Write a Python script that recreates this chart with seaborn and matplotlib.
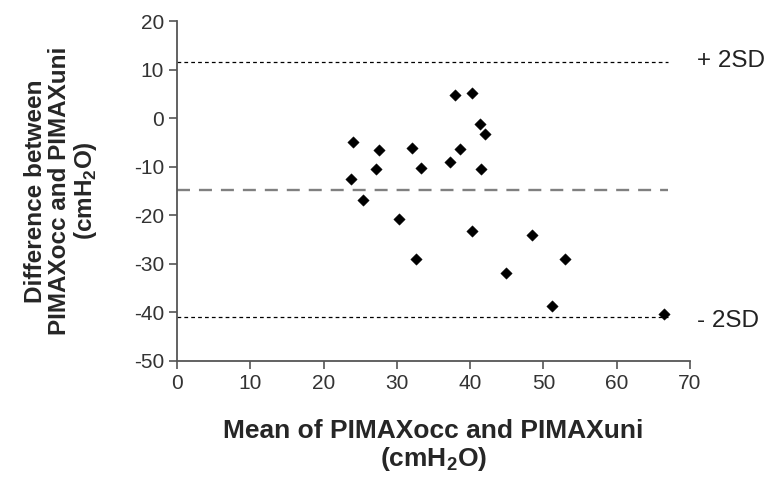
import numpy as np
import pandas as pd
import matplotlib
matplotlib.use("Agg")
import matplotlib.pyplot as plt
import seaborn as sns

# Bland-Altman data
mean_vals = [24.0, 23.7, 25.4, 27.5, 27.2, 30.3, 32.1, 32.6, 33.3, 37.2, 38.0,
             38.6, 40.3, 41.3, 42.0, 41.5, 40.3, 44.9, 48.5, 53.0, 51.2, 66.5]
diff_vals = [-4.9, -12.6, -16.8, -6.6, -10.4, -20.8, -6.2, -29.0, -10.2, -9.1, 4.8,
             -6.3, 5.1, -1.3, -3.2, -10.5, -23.2, -31.8, -24.0, -28.9, -38.7, -40.4]
bias = -14.8
upper_sd = 11.5
lower_sd = -40.9
line_end = 67
x_ticks = [0, 10, 20, 30, 40, 50, 60, 70]
y_ticks = [20, 10, 0, -10, -20, -30, -40, -50]

df = pd.DataFrame({"mean": mean_vals, "diff": diff_vals})

sns.set_style("ticks")
plt.rcParams['font.family'] = ['Liberation Sans', 'DejaVu Sans']
plt.rcParams['axes.unicode_minus'] = False
plt.rcParams['mathtext.fontset'] = 'custom'
plt.rcParams['mathtext.rm'] = 'Liberation Sans:bold'
plt.rcParams['mathtext.bf'] = 'Liberation Sans:bold'

fig, ax = plt.subplots(figsize=(7.7, 4.83), dpi=100)
fig.subplots_adjust(left=0.23, right=0.896, top=0.9565, bottom=0.2526)

ax.hlines(upper_sd, 0, line_end, colors='black', linewidth=0.9, linestyles=(0, (3, 2.5)))
ax.hlines(lower_sd, 0, line_end, colors='black', linewidth=0.9, linestyles=(0, (3, 2.5)))
ax.hlines(bias, 0, line_end, colors='#808080', linewidth=1.7, linestyles=(0, (5.5, 3.8)))

sns.scatterplot(data=df, x="mean", y="diff", marker='D', s=34, color='black',
                edgecolor='black', linewidth=0.3, ax=ax, zorder=3)

ax.set_xlim(0, 70)
ax.set_ylim(-50, 20)
ax.set_xticks(x_ticks)
ax.set_yticks(y_ticks)
ax.tick_params(axis='both', labelsize=15, labelcolor='#333333', color='#555555',
               length=6, width=1.2, direction='out')
for side in ['top', 'right']:
    ax.spines[side].set_visible(False)
for side in ['left', 'bottom']:
    ax.spines[side].set_color('#555555')
    ax.spines[side].set_linewidth(1.3)

ax.text(71, upper_sd + 0.3, '+ 2SD', fontsize=17.5, color='#222222', va='center', ha='left',
        clip_on=False)
ax.text(71, lower_sd - 0.8, '- 2SD', fontsize=17.5, color='#222222', va='center', ha='left',
        clip_on=False)

ax.set_xlabel('Mean of PIMAXocc and PIMAXuni\n(cmH$_{2}$O)', fontsize=19,
              fontweight='bold', linespacing=1.1)
ax.set_ylabel('Difference between\nPIMAXocc and PIMAXuni\n(cmH$_{2}$O)', fontsize=17.5,
              fontweight='bold', linespacing=1.05)
ax.xaxis.set_label_coords(0.5, -0.17)
ax.yaxis.set_label_coords(-0.152, 0.5)

plt.savefig('out.png', dpi=100)
